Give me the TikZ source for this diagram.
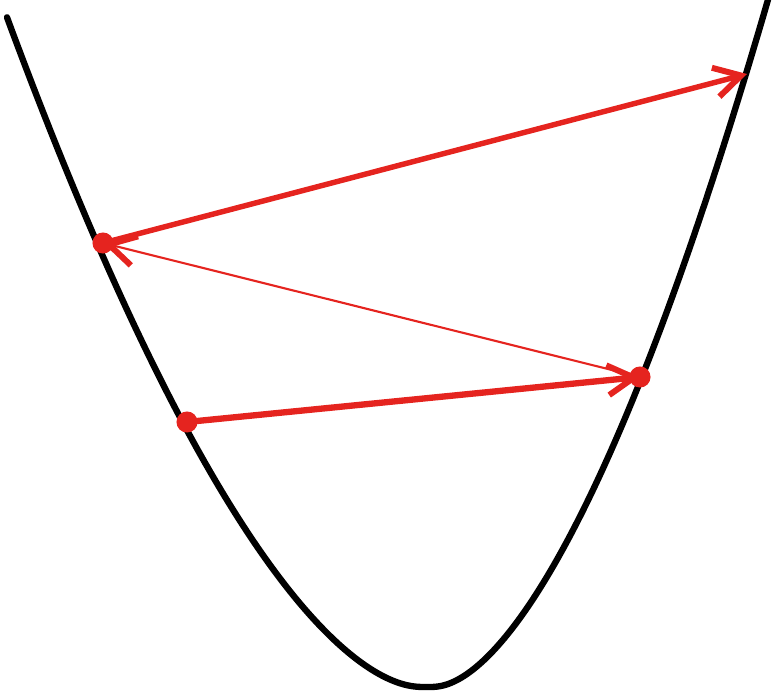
\documentclass[tikz,border=0pt]{standalone}
\usetikzlibrary{arrows.meta}
\definecolor{arrowred}{RGB}{229,36,31}
\begin{document}
\begin{tikzpicture}[x=0.02cm,y=-0.02cm,
  curve/.style={line width=3.6pt, black, line join=round, line cap=round},
  barb/.style={-{Straight Barb[length=15pt,width=17pt,line width=3.4pt]}},
  thickarrow/.style={barb, arrowred, line width=3.6pt},
  thinarrow/.style={barb, arrowred, line width=1.2pt},
  dot/.style={circle, fill=arrowred, inner sep=0pt, minimum size=12pt}]
\useasboundingbox (0,0) rectangle (777,693);
\begin{scope}
\clip (0,0) rectangle (777,693);
\draw[curve] plot[domain=-420:0, samples=160] ({427+\x},{687-pow((10*sqrt((\x/10)*(\x/10)+1.44)-12)/7.91+0.001,1.65)})
  -- plot[domain=0:350, samples=160] ({427+\x},{687-pow((10*sqrt((\x/10)*(\x/10)+1.44)-12)/6.28+0.001,1.65)});
\end{scope}
\coordinate (pa) at (187,422);
\coordinate (pb) at (640,377);
\coordinate (pc) at (103,243);
\coordinate (pd) at (747,74);
\draw[thickarrow] (pa) -- (pb);
\draw[thinarrow] (pb) -- (pc);
\draw[thickarrow, line width=3.1pt] (pc) -- (pd);
\node[dot] (a) at (pa) {};
\node[dot] (b) at (pb) {};
\node[dot] (c) at (pc) {};
\end{tikzpicture}
\end{document}
